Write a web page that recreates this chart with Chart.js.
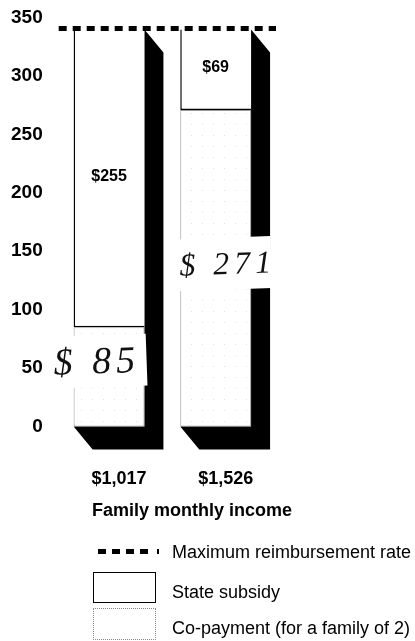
<!DOCTYPE html>
<html>
<head>
<meta charset="utf-8">
<script src="https://cdn.jsdelivr.net/npm/chart.js@4"></script>
<style>
  body { margin: 0; background: #fff; }
  #wrap { position: relative; width: 415px; height: 641px; font-family: "Liberation Sans", Arial, sans-serif; color: #000; }
  #box { position: absolute; left: 0; top: 0; width: 415px; height: 532px; }
  .txt { position: absolute; font-size: 18px; line-height: 18px; white-space: nowrap; }
  .bold { font-weight: bold; }
</style>
</head>
<body>
<div id="wrap">
  <div id="box"><canvas id="grafico"></canvas></div>
  <div class="txt bold" style="left:92px; top:501px;">Family monthly income</div>

  <!-- legenda -->
  <div style="position:absolute; left:98px; top:549px; width:56px; height:5px; background:repeating-linear-gradient(to right,#000 0 8px,transparent 8px 14px);"></div>
  <div style="position:absolute; left:157px; top:549px; width:2px; height:5px; background:#000;"></div>
  <div class="txt" style="left:172px; top:543px;">Maximum reimbursement rate</div>

  <div style="position:absolute; left:93px; top:572px; width:61px; height:29px; border:1.5px solid #000;"></div>
  <div class="txt" style="left:172px; top:583px;">State subsidy</div>

  <div id="legCopay" style="position:absolute; left:93px; top:608px; width:61px; height:30px; border:1px dotted #888;"></div>
  <div class="txt" style="left:172px; top:619px;">Co-payment (for a family of 2)</div>
</div>

<script>
// dados
const categorias = ['$1,017', '$1,526'];
const coPagamento = [85, 271];
const subsidioEstadual = [255, 69];
const taxaMaxima = 340;
const yMax = 350;
const yPasso = 50;

// textura pontilhada (bem rala) do co-pagamento
function criarPontilhado() {
    const c = document.createElement('canvas');
    c.width = 11; c.height = 11;
    const g = c.getContext('2d');
    g.fillStyle = '#fff';
    g.fillRect(0, 0, 11, 11);
    g.fillStyle = '#e2e2e2';
    g.fillRect(4, 3, 1, 1);
    return g.createPattern(c, 'repeat');
}
const pontilhado = criarPontilhado();

const SOMBRA_DX = 19, SOMBRA_DY = 23;

// sombra preta "3D" atrás de cada barra
const sombraPlugin = {
    id: 'sombra',
    beforeDatasetsDraw(chart) {
        const base = chart.getDatasetMeta(0).data;
        const topo = chart.getDatasetMeta(1).data;
        const ctx = chart.ctx;
        ctx.save();
        ctx.fillStyle = '#000';
        base.forEach((el, i) => {
            const esq = el.x - el.width / 2;
            const dir = el.x + el.width / 2;
            const y0 = topo[i].y;
            const y1 = el.base;
            ctx.beginPath();
            ctx.moveTo(dir, y0);
            ctx.lineTo(dir + SOMBRA_DX, y0 + SOMBRA_DY);
            ctx.lineTo(dir + SOMBRA_DX, y1 + SOMBRA_DY);
            ctx.lineTo(esq + SOMBRA_DX, y1 + SOMBRA_DY);
            ctx.lineTo(esq, y1);
            ctx.lineTo(dir, y1);
            ctx.closePath();
            ctx.fill();
        });
        ctx.restore();
    }
};

// rótulos de valor, linha tracejada e anotações à mão
const extrasPlugin = {
    id: 'extras',
    afterDatasetsDraw(chart) {
        const ctx = chart.ctx;
        const y = chart.scales.y;
        const area = chart.chartArea;

        // valores do subsídio
        ctx.save();
        ctx.fillStyle = '#000';
        ctx.font = 'bold 16px "Liberation Sans", Arial, sans-serif';
        ctx.textAlign = 'center';
        ctx.textBaseline = 'middle';
        chart.getDatasetMeta(1).data.forEach((el, i) => {
            ctx.fillText('$' + subsidioEstadual[i], el.x, (el.y + el.base) / 2 - 2);
        });
        ctx.restore();

        // linha da taxa máxima
        const yLinha = y.getPixelForValue(taxaMaxima) - 1;
        ctx.save();
        ctx.strokeStyle = '#000';
        ctx.lineWidth = 5;
        ctx.setLineDash([8, 6]);
        ctx.beginPath();
        ctx.moveTo(area.left + 3, yLinha);
        ctx.lineTo(area.right + 7, yLinha);
        ctx.stroke();
        ctx.restore();

        // anotações escritas à mão por cima
        const notas = [
            { v: 55, x0: -22, x1: 73, size: 38 },
            { v: 138, x0: -3, x1: 91, size: 32 }
        ];
        chart.getDatasetMeta(0).data.forEach((el, i) => {
            const n = notas[i];
            const esq = el.x - el.width / 2;
            const yc = y.getPixelForValue(n.v);
            ctx.save();
            ctx.translate(esq, yc);
            ctx.rotate(-0.035);
            ctx.fillStyle = '#fff';
            ctx.fillRect(n.x0, -26, n.x1 - n.x0, 52);
            ctx.fillStyle = '#111';
            ctx.font = 'italic ' + n.size + 'px "Liberation Serif", serif';
            ctx.letterSpacing = '5px';
            ctx.textBaseline = 'middle';
            ctx.fillText('$ ' + coPagamento[i], n.x0 + 2, 2);
            ctx.restore();
        });
    }
};

new Chart(document.getElementById('grafico'), {
    type: 'bar',
    data: {
        labels: categorias,
        datasets: [
            {
                label: 'Co-payment (for a family of 2)',
                data: coPagamento,
                backgroundColor: pontilhado,
                borderColor: '#999',
                borderWidth: 1,
                borderSkipped: false
            },
            {
                label: 'State subsidy',
                data: subsidioEstadual,
                backgroundColor: '#fff',
                borderColor: '#000',
                borderWidth: { left: 1.5, top: 0, right: 0, bottom: 1.5 },
                borderSkipped: false
            }
        ]
    },
    options: {
        responsive: true,
        maintainAspectRatio: false,
        animation: false,
        categoryPercentage: 1,
        barPercentage: 0.664,
        layout: { padding: { left: -2, right: 146, top: 16, bottom: 0 } },
        plugins: {
            legend: { display: false },
            tooltip: { enabled: false }
        },
        scales: {
            x: {
                stacked: true,
                grid: { display: false, drawTicks: false },
                border: { display: false },
                ticks: {
                    color: '#000',
                    font: { family: '"Liberation Sans", Arial, sans-serif', size: 18, weight: 'bold' },
                    padding: 42,
                    labelOffset: 10
                }
            },
            y: {
                stacked: true,
                min: 0,
                max: yMax,
                grid: { display: false, drawTicks: false },
                border: { display: false },
                ticks: {
                    stepSize: yPasso,
                    color: '#000',
                    font: { family: '"Liberation Sans", Arial, sans-serif', size: 19, weight: 'bold', lineHeight: 0.5 },
                    padding: 13
                }
            }
        }
    },
    plugins: [sombraPlugin, extrasPlugin]
});
</script>
</body>
</html>
